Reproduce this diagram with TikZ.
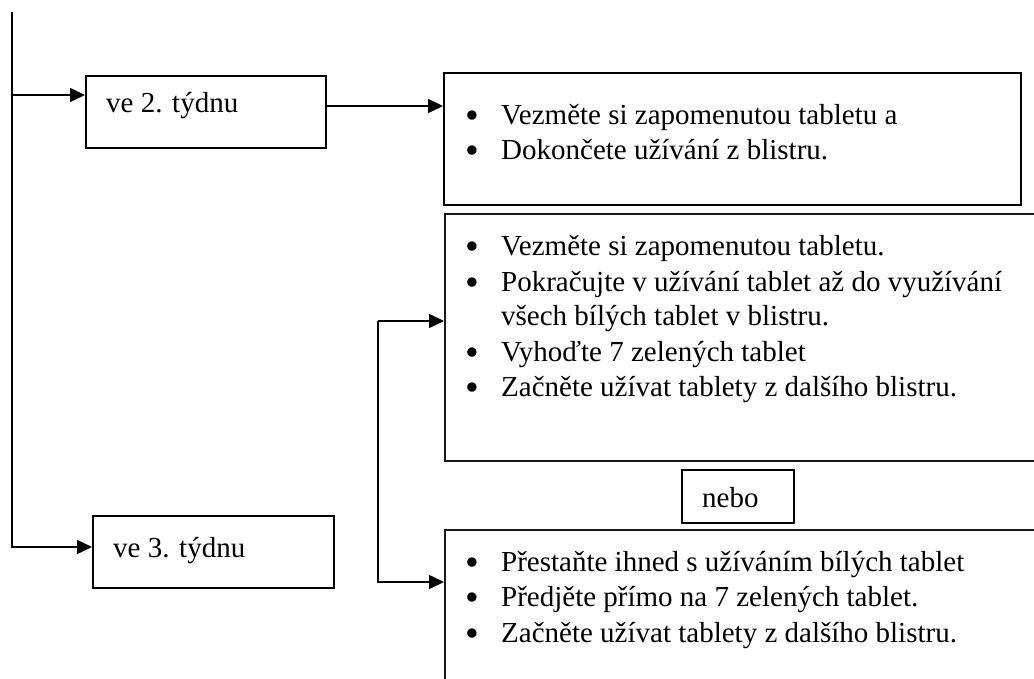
\documentclass[tikz,border=0pt]{standalone}
\usepackage{fontspec}
\setmainfont{Liberation Serif}
\usetikzlibrary{arrows.meta}
\tikzset{
  boxthick/.style={draw=black, line width=2pt, inner sep=0pt, anchor=north west, fill=none},
  boxthin/.style={draw=black!90, line width=1.6pt, inner sep=0pt, anchor=north west, fill=none},
  conn/.style={draw=black, line width=1.6pt, -{Triangle[length=15pt,width=14pt]}},
  txt/.style={anchor=base west, inner sep=0pt, font=\fontsize{29}{35}\selectfont},
}
\newcommand{\bul}{\makebox[36pt][l]{\smash{\raisebox{-4pt}{\scalebox{1.35}{\textbullet}}}}}
\begin{document}
\begin{tikzpicture}[x=1pt,y=-1pt]
\useasboundingbox (0,0) rectangle (1034,679);
\clip (0,0) rectangle (1034,679);
\fill[white] (0,0) rectangle (1034,679);

% boxes
\node[boxthick, minimum width=240pt, minimum height=72pt] (A) at (85,75) {};
\node[boxthick, minimum width=241pt, minimum height=72pt] (B) at (92,515) {};
\node[boxthick, minimum width=577pt, minimum height=132pt] (b1) at (443,72) {};
\node[boxthin, minimum width=600pt, minimum height=247pt] (b2) at (444,213) {};
\node[boxthin, minimum width=600pt, minimum height=200pt] (b3) at (444,529) {};
\node[boxthick, line width=1.8pt, minimum width=112pt, minimum height=53pt] (nebo) at (681,469) {};

% texts
\node[txt] (tA) at (106,113) {ve 2. týdnu};
\node[txt] (tB) at (113,557) {ve 3. týdnu};
\node[txt] (tn) at (702,507) {nebo};

\node[txt] (l11) at (465,125) {\bul Vezměte si zapomenutou tabletu a};
\node[txt] (l12) at (465,160) {\bul Dokončete užívání z blistru.};

\node[txt] (l21) at (465,256) {\bul Vezměte si zapomenutou tabletu.};
\node[txt] (l22) at (465,291) {\bul Pokračujte v užívání tablet až do využívání};
\node[txt] (l22b) at (501,326) {všech bílých tablet v blistru.};
\node[txt] (l23) at (465,361) {\bul Vyhoďte 7 zelených tablet};
\node[txt] (l24) at (465,396) {\bul Začněte užívat tablety z dalšího blistru.};

\node[txt] (l31) at (465,571) {\bul Přestaňte ihned s užíváním bílých tablet};
\node[txt] (l32) at (465,606.5) {\bul Předjěte přímo na 7 zelených tablet.};
\node[txt] (l33) at (465,642) {\bul Začněte užívat tablety z dalšího blistru.};

% connectors
\coordinate (top) at (12,12);
\coordinate (yA) at (0,95);
\coordinate (yAo) at (0,106);
\coordinate (yB) at (0,547);
\coordinate (c1) at (378,321);
\coordinate (c3) at (378,582);

\draw[conn] (top) |- (B.west|-yB);
\draw[conn] (top|-yA) -- (A.west|-yA);
\draw[conn] (A.east|-yAo) -- (b1.west|-yAo);
\draw[conn] (c1) -- (b2.west|-c1);
\draw[conn] (c1) |- (b3.west|-c3);
\end{tikzpicture}
\end{document}
